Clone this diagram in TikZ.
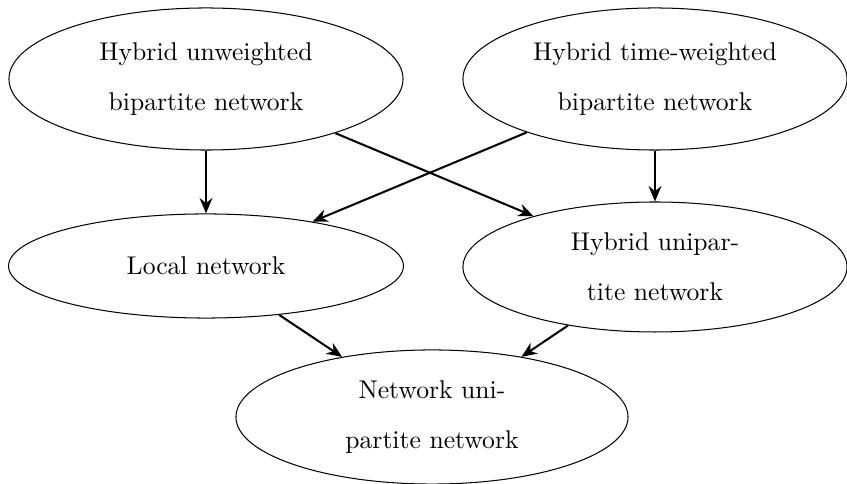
\documentclass[tikz,border=0pt]{standalone}
\usetikzlibrary{shapes.geometric,arrows.meta}
\begin{document}
\begin{tikzpicture}[x=0.39pt,y=-0.39pt,
  ell/.style={draw,ellipse,inner sep=0pt,align=center,line width=0.4pt},
  conn/.style={-{Stealth[length=6pt,width=5pt]},line width=0.8pt}]
\useasboundingbox (0,0) rectangle (847,484);
\node[ell,minimum width=153.7pt,minimum height=55.4pt] (a) at (206,79) {Hybrid unweighted\\[7.5pt]bipartite network};
\node[ell,minimum width=149.8pt,minimum height=55.4pt] (b) at (655,79) {Hybrid time-weighted\\[7.5pt]bipartite network};
\node[ell,minimum width=154pt,minimum height=40.6pt] (c) at (206,266) {Local network};
\node[ell,minimum width=149.8pt,minimum height=50.7pt] (d) at (655,267) {Hybrid unipar-\\[7.5pt]tite network};
\node[ell,minimum width=152.9pt,minimum height=52.3pt] (e) at (432,417) {Network uni-\\[7.5pt]partite network};
\draw[conn] (a) -- (c);
\draw[conn] (b) -- (d);
\draw[conn] (a) -- (d);
\draw[conn] (b) -- (c);
\draw[conn] (c) -- (e);
\draw[conn] (d) -- (e);
\end{tikzpicture}
\end{document}
